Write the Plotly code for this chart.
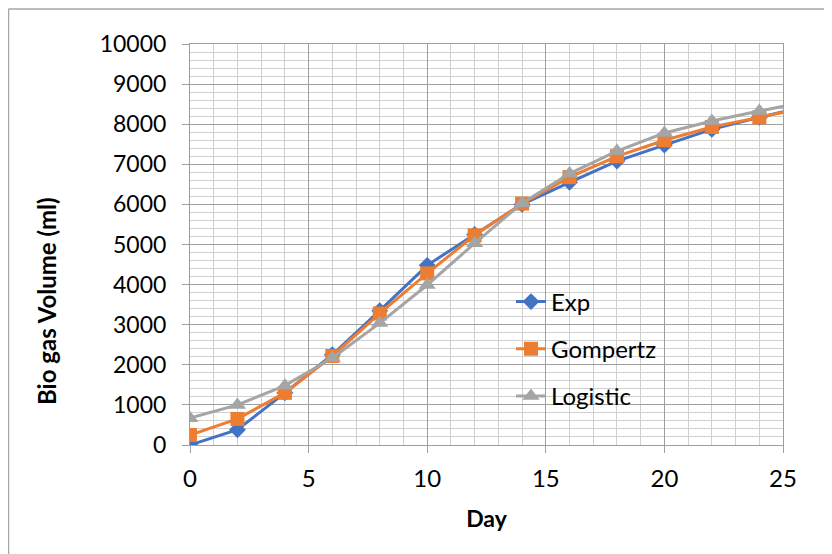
import plotly.graph_objects as go

days = [0, 2, 4, 6, 8, 10, 12, 14, 16, 18, 20, 22, 24, 26]
exp_vals = [0, 380, 1300, 2250, 3350, 4480, 5250, 6000, 6550, 7080, 7480, 7870, 8170, 8450]
gompertz_vals = [250, 650, 1300, 2220, 3280, 4280, 5230, 6020, 6680, 7200, 7600, 7930, 8170, 8420]
logistic_vals = [670, 1000, 1480, 2170, 3040, 3990, 5030, 6030, 6770, 7330, 7780, 8080, 8330, 8560]

series = [
    ("Exp", exp_vals, "#4472C4", "diamond", 13),
    ("Gompertz", gompertz_vals, "#ED7D31", "square", 14),
    ("Logistic", logistic_vals, "#A5A5A5", "triangle-up", 15),
]

FONT = "Lato, Carlito, Calibri, sans-serif"

fig = go.Figure()
for name, vals, color, sym, size in series:
    fig.add_trace(go.Scatter(
        x=days, y=vals, name=name, mode="lines+markers",
        line=dict(color=color, width=3),
        marker=dict(symbol=sym, size=size, color=color, line=dict(width=0)),
        legendgroup=name,
    ))

grid_major = "#9E9E9E"
grid_minor = "#D0D0D0"

# page is offset by 8px (body margin); plot area page px: x 190..783, y 44..445
fig.update_layout(
    width=832, height=554,
    margin=dict(l=182, r=57, t=36, b=117),
    paper_bgcolor="white", plot_bgcolor="white",
    font=dict(family=FONT, size=24, color="#000000"),
    showlegend=True,
    legend=dict(
        x=(503 - 182) / 593, y=(437 - 341) / 401, xanchor="left", yanchor="middle",
        bgcolor="rgba(0,0,0,0)", font=dict(size=24, family=FONT),
        tracegroupgap=13,
    ),
    xaxis=dict(
        range=[0, 25], dtick=5, tick0=0,
        showgrid=True, gridcolor=grid_major, gridwidth=1,
        minor=dict(dtick=1, showgrid=True, gridcolor=grid_minor, gridwidth=1),
        showline=True, linecolor=grid_major, linewidth=1, mirror=True,
        ticks="outside", ticklen=7, tickcolor=grid_major,
        ticklabelstandoff=5, tickfont=dict(size=24),
        zeroline=False,
        title=dict(text="<b>Day</b>", font=dict(size=23, family=FONT), standoff=20),
    ),
    yaxis=dict(
        range=[0, 10000], dtick=1000, tick0=0, tickformat="d",
        showgrid=True, gridcolor=grid_major, gridwidth=1,
        minor=dict(dtick=200, showgrid=True, gridcolor=grid_minor, gridwidth=1),
        showline=True, linecolor=grid_major, linewidth=1, mirror=True,
        ticks="outside", ticklen=7, tickcolor=grid_major,
        ticklabelstandoff=11, tickfont=dict(size=23),
        zeroline=False,
    ),
)

# y-axis title placed as in the reference (slightly below plot centre)
fig.add_annotation(
    text="<b>Bio gas Volume (ml)</b>", textangle=-90, showarrow=False,
    xref="paper", yref="paper",
    x=(38 - 182) / 593, y=(437 - 293) / 401, xanchor="center", yanchor="middle",
    font=dict(size=24, family=FONT, color="#000000"),
)

# outer chart border (top and left edges visible)
x_left = (0.5 - 182) / 593
y_top = (437 - 1) / 401
fig.add_shape(type="line", xref="paper", yref="paper", x0=x_left, x1=2, y0=y_top, y1=y_top,
              line=dict(color="#A6A6A6", width=1.5))
fig.add_shape(type="line", xref="paper", yref="paper", x0=x_left, x1=x_left, y0=y_top, y1=-2,
              line=dict(color="#A6A6A6", width=1.5))

fig.write_html("out.html")
